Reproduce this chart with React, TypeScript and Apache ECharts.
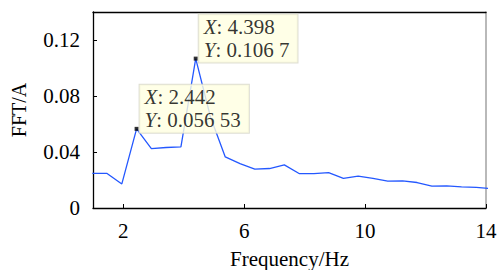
import React, { useEffect, useRef } from "react";
import * as echarts from "echarts";

const freq = [0.977, 1.465, 1.954, 2.442, 2.931, 3.419, 3.908, 4.398, 4.886, 5.375, 5.863, 6.352, 6.84, 7.329, 7.817, 8.306, 8.794, 9.283, 9.771, 10.26, 10.75, 11.24, 11.72, 12.21, 12.7, 13.19, 13.68, 14.17];
const amp = [0.0247, 0.0247, 0.0172, 0.05653, 0.0424, 0.0432, 0.0436, 0.1067, 0.065, 0.0365, 0.0317, 0.0277, 0.0282, 0.0308, 0.0246, 0.0246, 0.0253, 0.0211, 0.0227, 0.0211, 0.0192, 0.0194, 0.0182, 0.0156, 0.0158, 0.0151, 0.0147, 0.0138];
const tipX = [2.442, 4.398];
const tipY = [0.05653, 0.1067];
const tipXText = ["2.442", "4.398"];
const tipYText = ["0.056 53", "0.106 7"];
const xTicks = [2, 6, 10, 14];
const yTicks = [0, 0.04, 0.08, 0.12];

const FONT = "Liberation Serif";

export default function App() {
  const ref = useRef<HTMLDivElement>(null);
  useEffect(() => {
    document.body.style.margin = "0";
    const chart = echarts.init(ref.current!, null, { renderer: "svg" });
    chart.setOption({
      animation: false,
      textStyle: { fontFamily: FONT },
      grid: { left: 93, top: 12, right: 12, bottom: 62, containLabel: false, outerBoundsMode: "none" },
      xAxis: [
        {
          type: "value",
          min: 1,
          max: 14,
          interval: 1,
          name: "Frequency/Hz",
          nameLocation: "middle",
          nameGap: 40,
          nameTextStyle: { fontFamily: FONT, fontSize: 21, color: "#000" },
          axisLine: { show: true, onZero: false, lineStyle: { color: "#000", width: 1.3 } },
          axisTick: {
            show: true,
            inside: true,
            length: 4,
            lineStyle: { color: "#000" },
            customValues: xTicks,
          },
          axisLabel: {
            fontFamily: FONT,
            fontSize: 21,
            color: "#000",
            margin: 12,
            customValues: xTicks,
          },
          splitLine: { show: false },
        },
        {
          type: "value",
          position: "top",
          min: 1,
          max: 14,
          axisLine: { show: true, onZero: false, lineStyle: { color: "#000", width: 1.3 } },
          axisTick: { show: false },
          axisLabel: { show: false },
          splitLine: { show: false },
        },
      ],
      yAxis: [
        {
          type: "value",
          min: 0,
          max: 0.14,
          interval: 0.02,
          name: "FFT/A",
          nameLocation: "middle",
          nameGap: 64,
          nameTextStyle: { fontFamily: FONT, fontSize: 20, color: "#000" },
          axisLine: { show: true, lineStyle: { color: "#000", width: 1.3 } },
          axisTick: {
            show: true,
            inside: true,
            length: 4,
            lineStyle: { color: "#000" },
            customValues: yTicks,
          },
          axisLabel: {
            fontFamily: FONT,
            fontSize: 21,
            color: "#000",
            margin: 13,
            customValues: yTicks,
            formatter: (v: number) => (v === 0 ? "0" : String(Number(v.toFixed(2)))),
          },
          splitLine: { show: false },
        },
        {
          type: "value",
          position: "right",
          min: 0,
          max: 0.14,
          axisLine: { show: true, lineStyle: { color: "#a8a8a8", width: 1.6 } },
          axisTick: { show: false },
          axisLabel: { show: false },
          splitLine: { show: false },
        },
      ],
      series: [
        {
          type: "line",
          data: freq.map((f, i) => [f, amp[i]]),
          showSymbol: false,
          symbol: "none",
          lineStyle: { color: "#2458ff", width: 1.3 },
          clip: true,
          z: 2,
        },
        {
          type: "scatter",
          data: tipX.map((x, i) => ({
            value: [x, tipY[i]],
            label: {
              show: true,
              position: [5, -42],
              align: "left",
              verticalAlign: "top",
              formatter: `{i|X}: ${tipXText[i]}\n{i|Y}: ${tipYText[i]}`,
              fontFamily: FONT,
              fontSize: 21,
              lineHeight: 23,
              color: "#000",
              backgroundColor: "#ffffe1",
              borderColor: "#d6d6c8",
              borderWidth: 1,
              padding: [1, 8, 1, 5],
              rich: {
                i: { fontStyle: "italic", fontFamily: FONT, fontSize: 21, lineHeight: 23, color: "#000" },
              },
            },
          })),
          symbol: "rect",
          symbolSize: 4,
          itemStyle: { color: "#000" },
          z: 5,
        },
      ],
    });
    return () => chart.dispose();
  }, []);
  return <div ref={ref} style={{ width: 498, height: 270, position: "absolute", left: 0, top: 0 }} />;
}
